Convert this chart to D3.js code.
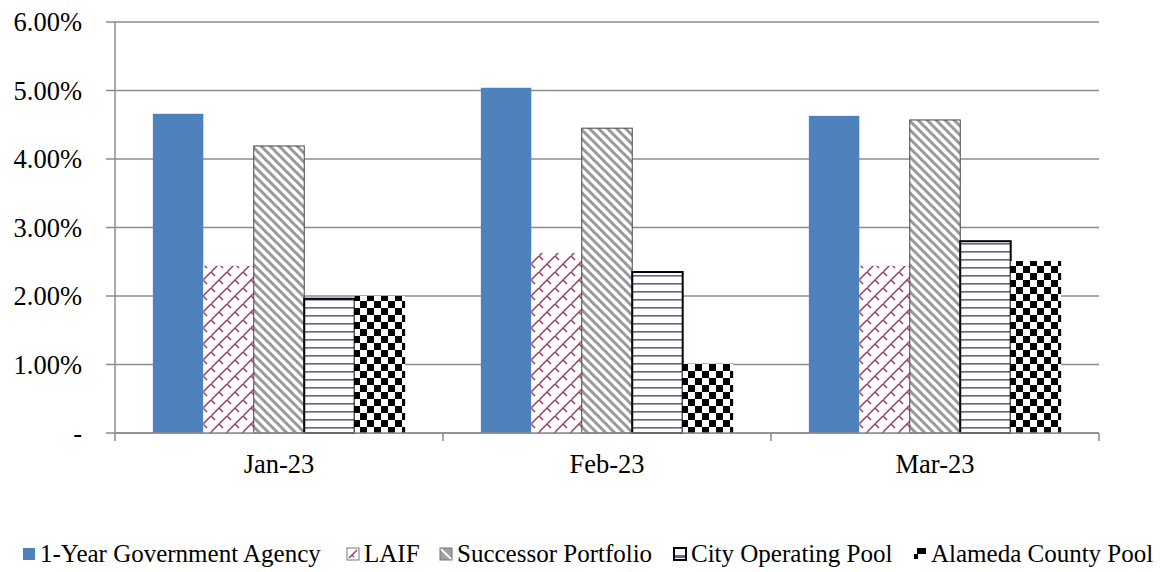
<!DOCTYPE html>
<html>
<head>
<meta charset="utf-8">
<script src="https://cdn.jsdelivr.net/npm/d3@7"></script>
<style>
  body { margin: 0; background: #fff; }
</style>
</head>
<body>
<div id="chart"></div>
<script>
// Datos del gráfico
const months = ["Jan-23", "Feb-23", "Mar-23"];
const seriesNames = ["1-Year Government Agency", "LAIF", "Successor Portfolio", "City Operating Pool", "Alameda County Pool"];
const agency = [4.66, 5.04, 4.63];
const laif = [2.44, 2.63, 2.44];
const successor = [4.19, 4.45, 4.57];
const cityPool = [1.96, 2.35, 2.80];
const alamedaPool = [2.00, 1.01, 2.51];
const yTicks = [0, 1, 2, 3, 4, 5, 6];

const allSeries = [agency, laif, successor, cityPool, alamedaPool];

const width = 1160;
const height = 572;
const margin = { top: 22, right: 61, bottom: 139, left: 115 };
const serif = '"Liberation Serif", "Times New Roman", serif';

const svg = d3.select("#chart").append("svg")
  .attr("width", width)
  .attr("height", height);

// Patrones de relleno
const defs = svg.append("defs");

const pLaif = defs.append("pattern").attr("id", "p-laif")
  .attr("patternUnits", "userSpaceOnUse").attr("width", 16).attr("height", 16);
pLaif.append("rect").attr("width", 16).attr("height", 16).attr("fill", "#fff");
pLaif.append("path").attr("d", "M0,16 L16,0 M8,8 L12,12 M0,0 L4,4 M-8,8 L-4,12 M16,-8 L20,-4")
  .attr("stroke", "#9e3a6b").attr("stroke-width", 1.5).attr("fill", "none");

const pSucc = defs.append("pattern").attr("id", "p-succ")
  .attr("patternUnits", "userSpaceOnUse").attr("width", 9).attr("height", 9);
pSucc.append("rect").attr("width", 9).attr("height", 9).attr("fill", "#fff");
pSucc.append("path").attr("d", "M-3,-3 L12,12 M-3,6 L3,12 M6,-3 L12,3")
  .attr("stroke", "#999").attr("stroke-width", 3);

const pCity = defs.append("pattern").attr("id", "p-city")
  .attr("patternUnits", "userSpaceOnUse").attr("width", 8).attr("height", 8);
pCity.append("rect").attr("width", 8).attr("height", 8).attr("fill", "#fff");
pCity.append("rect").attr("y", 3).attr("width", 8).attr("height", 1.6).attr("fill", "#62629a");

const pAla = defs.append("pattern").attr("id", "p-ala")
  .attr("patternUnits", "userSpaceOnUse").attr("width", 14).attr("height", 14);
pAla.append("rect").attr("width", 14).attr("height", 14).attr("fill", "#fff");
pAla.append("rect").attr("width", 7).attr("height", 7).attr("fill", "#000");
pAla.append("rect").attr("x", 7).attr("y", 7).attr("width", 7).attr("height", 7).attr("fill", "#000");

// Patrones pequeños para la leyenda
const lLaif = defs.append("pattern").attr("id", "l-laif")
  .attr("patternUnits", "objectBoundingBox").attr("width", 1).attr("height", 1);
lLaif.append("rect").attr("width", 12).attr("height", 12).attr("fill", "#fff");
lLaif.append("path").attr("d", "M2,10 L10,2 M5,7 L7,9").attr("stroke", "#9e3a6b").attr("stroke-width", 1.5);

const lSucc = defs.append("pattern").attr("id", "l-succ")
  .attr("patternUnits", "objectBoundingBox").attr("width", 1).attr("height", 1);
lSucc.append("rect").attr("width", 12).attr("height", 12).attr("fill", "#a0a0a0");
lSucc.append("path").attr("d", "M0,0 L12,12").attr("stroke", "#fff").attr("stroke-width", 2);

const lCity = defs.append("pattern").attr("id", "l-city")
  .attr("patternUnits", "objectBoundingBox").attr("width", 1).attr("height", 1);
lCity.append("rect").attr("width", 12).attr("height", 12).attr("fill", "#fff");
lCity.append("rect").attr("y", 7).attr("width", 12).attr("height", 3).attr("fill", "#62629a");

const lAla = defs.append("pattern").attr("id", "l-ala")
  .attr("patternUnits", "objectBoundingBox").attr("width", 1).attr("height", 1);
lAla.append("rect").attr("width", 12).attr("height", 12).attr("fill", "#fff");
lAla.append("rect").attr("x", 3).attr("width", 9).attr("height", 6).attr("fill", "#000");
lAla.append("rect").attr("y", 6).attr("width", 4).attr("height", 5).attr("fill", "#000");

const fills = ["#4f81bd", "url(#p-laif)", "url(#p-succ)", "url(#p-city)", "url(#p-ala)"];
const legendFills = ["#4f81bd", "url(#l-laif)", "url(#l-succ)", "url(#l-city)", "url(#l-ala)"];
const strokes = ["none", "none", "#444", "#000", "none"];
const strokeW = [0, 0, 1, 2, 0];

// Escalas
const x0 = d3.scaleBand().domain(months)
  .range([margin.left, width - margin.right]).paddingInner(0).paddingOuter(0);
const x1 = d3.scaleBand().domain(d3.range(seriesNames.length))
  .range([0, x0.bandwidth()]).paddingOuter(0.75).paddingInner(0);
const y = d3.scaleLinear().domain([0, 6]).range([height - margin.bottom, margin.top]);

// Líneas de cuadrícula
svg.append("g").selectAll("line").data(yTicks).enter().append("line")
  .attr("x1", margin.left - 9).attr("x2", width - margin.right)
  .attr("y1", d => y(d)).attr("y2", d => y(d))
  .attr("stroke", "#8c8c8c").attr("stroke-width", 1.5);

// Eje Y
svg.append("line")
  .attr("x1", margin.left).attr("x2", margin.left)
  .attr("y1", margin.top).attr("y2", y(0))
  .attr("stroke", "#8c8c8c").attr("stroke-width", 1.5);

svg.append("g").selectAll("text").data(yTicks).enter().append("text")
  .attr("x", 82).attr("y", d => y(d) + 9)
  .attr("text-anchor", "end")
  .style("font-family", serif)
  .style("font-size", "26.5px")
  .text(d => d === 0 ? "-" : d.toFixed(2) + "%");

// Barras
const groups = svg.append("g").selectAll("g").data(months).enter().append("g")
  .attr("transform", m => `translate(${x0(m)},0)`);

groups.selectAll("rect")
  .data((m, i) => allSeries.map((s, k) => ({ k: k, v: s[i] })))
  .enter().append("rect")
  .attr("x", d => x1(d.k))
  .attr("y", d => y(d.v))
  .attr("width", x1.bandwidth())
  .attr("height", d => y(0) - y(d.v))
  .attr("fill", d => fills[d.k])
  .attr("stroke", d => strokes[d.k])
  .attr("stroke-width", d => strokeW[d.k]);

// Eje X
svg.append("line")
  .attr("x1", margin.left).attr("x2", width - margin.right)
  .attr("y1", y(0)).attr("y2", y(0))
  .attr("stroke", "#8c8c8c").attr("stroke-width", 1.5);

const bounds = months.map(m => x0(m)).concat([width - margin.right]);
svg.append("g").selectAll("line").data(bounds).enter().append("line")
  .attr("x1", d => d).attr("x2", d => d)
  .attr("y1", y(0)).attr("y2", y(0) + 8)
  .attr("stroke", "#8c8c8c").attr("stroke-width", 1.5);

svg.append("g").selectAll("text").data(months).enter().append("text")
  .attr("x", m => x0(m) + x0.bandwidth() / 2)
  .attr("y", 473)
  .attr("text-anchor", "middle")
  .style("font-family", serif)
  .style("font-size", "26.5px")
  .text(m => m);

// Leyenda
const legendX = [23, 347, 440, 674, 914];
const legend = svg.append("g").selectAll("g").data(seriesNames).enter().append("g")
  .attr("transform", (d, i) => `translate(${legendX[i]},548)`);

legend.append("rect")
  .attr("width", 12).attr("height", 12)
  .attr("fill", (d, i) => legendFills[i])
  .attr("stroke", (d, i) => i === 0 || i === 4 ? "none" : (i === 3 ? "#000" : "#777"))
  .attr("stroke-width", (d, i) => i === 3 ? 2 : 1);

legend.append("text")
  .attr("x", 17)
  .attr("y", 14)
  .style("font-family", serif)
  .style("font-size", "25px")
  .text(d => d);
</script>
</body>
</html>
